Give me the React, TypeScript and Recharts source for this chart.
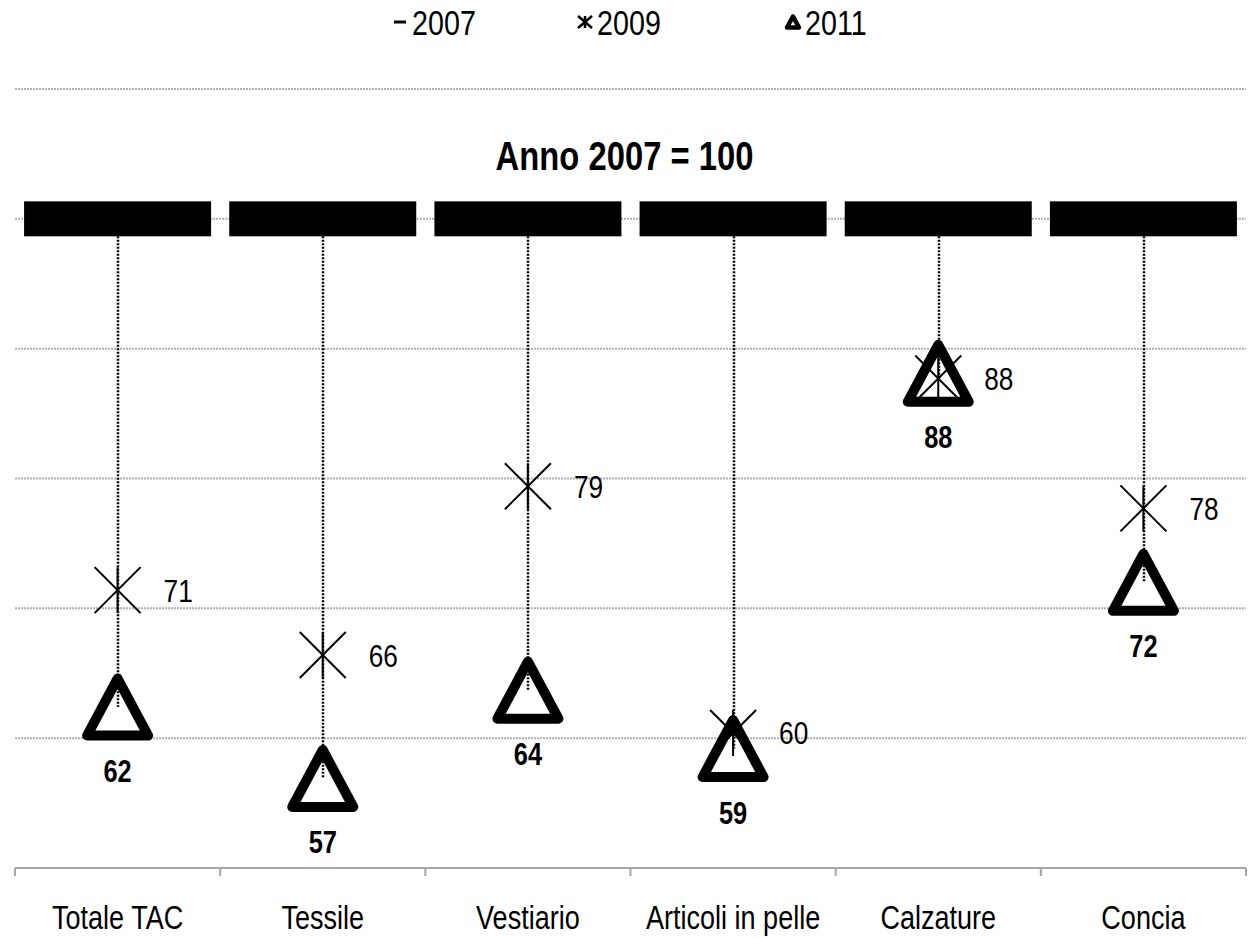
import { ComposedChart, Bar, Line, XAxis, YAxis, CartesianGrid, LabelList } from "recharts";

const categories = ["Totale TAC", "Tessile", "Vestiario", "Articoli in pelle", "Calzature", "Concia"];
const v2007 = [100, 100, 100, 100, 100, 100];
const v2009 = [71.4, 66.4, 79.4, 60.4, 87.7, 77.7];
const v2011 = [62.4, 56.9, 63.7, 59.2, 88.1, 72.0];
const yTicks = [50, 60, 70, 80, 90, 100, 110];
const seriesNames = ["2007", "2009", "2011"];
const title = "Anno 2007 = 100";

const W = 1249;
const H = 938;
const MARGIN = { top: 89, right: 3, left: 15, bottom: 0 };
const AXIS_H = 70;
const BAND = (W - MARGIN.left - MARGIN.right) / categories.length;
const FONT = '"Liberation Sans", Arial, sans-serif';
const NARROW = 0.82;

const rows = categories.map((cat, i) => ({
  cat,
  y2007: v2007[i],
  y2009: v2009[i],
  y2011: v2011[i],
  drop: [Math.min(v2009[i], v2011[i]), v2007[i]],
}));

// no condensed font installed, so squeeze a regular one
function NText({ x, y, size, bold, anchor = "start", children }: any) {
  return (
    <text
      transform={`translate(${x} ${y}) scale(${NARROW} 1)`}
      textAnchor={anchor}
      fontFamily={FONT}
      fontSize={size}
      fontWeight={bold ? "bold" : "normal"}
      fill="#000"
    >
      {children}
    </text>
  );
}

function DashMarker({ cx, cy }: any) {
  if (cx == null || cy == null) return null;
  return <rect x={cx - 93.5} y={cy - 17.5} width={187} height={35} fill="#000" />;
}

function StarMarker({ cx, cy }: any) {
  if (cx == null || cy == null) return null;
  const r = 23;
  return (
    <g stroke="#000" strokeWidth={2}>
      <line x1={cx - r} y1={cy - r} x2={cx + r} y2={cy + r} />
      <line x1={cx - r} y1={cy + r} x2={cx + r} y2={cy - r} />
      <line x1={cx} y1={cy - r} x2={cx} y2={cy + r} />
    </g>
  );
}

function TriMarker({ cx, cy }: any) {
  if (cx == null || cy == null) return null;
  return (
    <path
      d={`M${cx},${cy - 28.5} L${cx + 30.5},${cy + 28.5} L${cx - 30.5},${cy + 28.5} Z`}
      fill="none"
      stroke="#000"
      strokeWidth={10}
      strokeLinejoin="round"
    />
  );
}

function DropLine({ x, y, width, height }: any) {
  if (x == null || y == null) return null;
  const cx = Math.round(x + width / 2);
  const top = Math.min(y, y + height);
  const bot = Math.max(y, y + height);
  return <line x1={cx} y1={top} x2={cx} y2={bot} stroke="#000" strokeWidth={2.5} strokeDasharray="2 1.5" />;
}

function CatTick({ x, y, payload, index }: any) {
  return (
    <g>
      <line x1={x - BAND / 2} y1={y} x2={x - BAND / 2} y2={y + 8} stroke="#a6a6a6" strokeWidth={2} />
      {index === categories.length - 1 && (
        <line x1={x + BAND / 2} y1={y} x2={x + BAND / 2} y2={y + 8} stroke="#a6a6a6" strokeWidth={2} />
      )}
      <NText x={x} y={y + 61} size={33} anchor="middle">
        {payload.value}
      </NText>
    </g>
  );
}

const label2009 = ({ x, y, value }: any) => (
  <NText x={x + 46} y={y + 11.5} size={32}>
    {Math.round(value)}
  </NText>
);

const label2011 = ({ x, y, value }: any) => (
  <NText x={x} y={y + 75} size={31} bold anchor="middle">
    {Math.round(value)}
  </NText>
);

function LegendIcon({ i, x, y }: { i: number; x: number; y: number }) {
  if (i === 0) return <rect x={x - 6} y={y - 1.5} width={12} height={3} fill="#000" />;
  if (i === 1)
    return (
      <g stroke="#000" strokeWidth={2.5}>
        <line x1={x - 7} y1={y - 6} x2={x + 7} y2={y + 6} />
        <line x1={x - 7} y1={y + 6} x2={x + 7} y2={y - 6} />
        <line x1={x} y1={y - 6} x2={x} y2={y + 6} />
      </g>
    );
  return (
    <path
      d={`M${x},${y - 5.5} L${x + 6},${y + 5.5} L${x - 6},${y + 5.5} Z`}
      fill="none"
      stroke="#000"
      strokeWidth={4.5}
      strokeLinejoin="round"
    />
  );
}

const legendX = [400, 585, 793];

export default function App() {
  return (
    <div style={{ position: "absolute", left: 0, top: 0, width: W, height: H, background: "#fff" }}>
      <ComposedChart width={W} height={H} data={rows} margin={MARGIN}>
        <CartesianGrid vertical={false} stroke="#b0b0b0" strokeWidth={2} strokeDasharray="2 1" />
        <XAxis
          dataKey="cat"
          height={AXIS_H}
          axisLine={{ stroke: "#a6a6a6", strokeWidth: 2 }}
          tickLine={false}
          tickSize={0}
          tickMargin={0}
          interval={0}
          tick={<CatTick />}
        />
        <YAxis hide domain={[50, 110]} ticks={yTicks} />
        <Bar dataKey="drop" barSize={10} shape={<DropLine />} isAnimationActive={false} />
        <Line dataKey="y2007" stroke="none" dot={<DashMarker />} activeDot={false} isAnimationActive={false} />
        <Line dataKey="y2009" stroke="none" dot={<StarMarker />} activeDot={false} isAnimationActive={false}>
          <LabelList dataKey="y2009" content={label2009} />
        </Line>
        <Line dataKey="y2011" stroke="none" dot={<TriMarker />} activeDot={false} isAnimationActive={false}>
          <LabelList dataKey="y2011" content={label2011} />
        </Line>
      </ComposedChart>
      <svg width={W} height={200} style={{ position: "absolute", left: 0, top: 0, pointerEvents: "none" }}>
        {seriesNames.map((name, i) => (
          <g key={name}>
            <LegendIcon i={i} x={legendX[i]} y={22} />
            <NText x={legendX[i] + 12} y={35} size={35}>
              {name}
            </NText>
          </g>
        ))}
        <NText x={W / 2} y={170} size={40} bold anchor="middle">
          {title}
        </NText>
      </svg>
    </div>
  );
}
